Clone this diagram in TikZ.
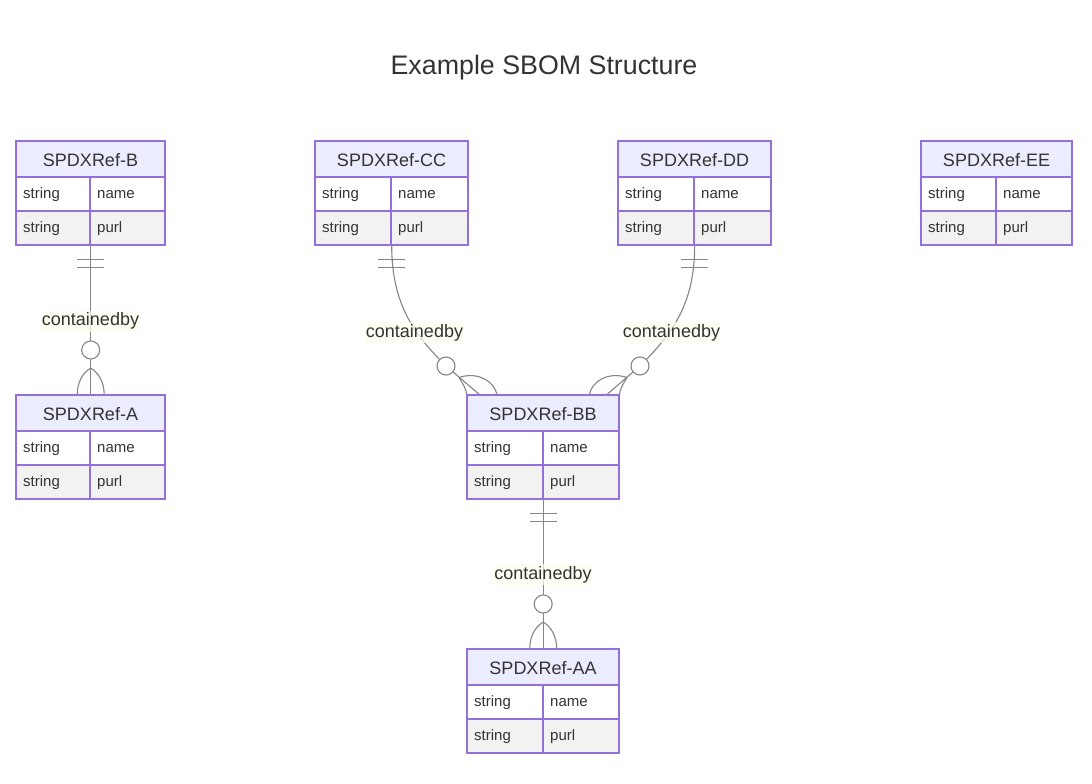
\documentclass[tikz,border=0pt]{standalone}
\usepackage{fontspec}
\setmainfont{Liberation Sans}
\usetikzlibrary{calc}
\definecolor{entborder}{HTML}{9370DB}
\definecolor{hdrbg}{HTML}{ECECFF}
\definecolor{evenbg}{HTML}{F2F2F2}
\definecolor{txt}{HTML}{333333}
\definecolor{relcol}{HTML}{858585}
\definecolor{lblbg}{HTML}{F9FFEC}
\tikzset{
  entnode/.style={draw=none, inner sep=0, minimum height=104, rectangle},
  hdrfill/.style={fill=hdrbg},
  rowfill/.style={fill=evenbg},
  entline/.style={draw=entborder, line width=1.25pt},
  titletext/.style={inner sep=0, text=txt, font=\fontsize{18}{20}\selectfont},
  celltext/.style={inner sep=0, text=txt, anchor=west, font=\fontsize{15}{17}\selectfont},
  rel/.style={draw=relcol, line width=1.1pt},
  lbl/.style={inner sep=0, minimum height=21, fill=lblbg, fill opacity=0.7, text opacity=1, text=txt, font=\fontsize{18}{20}\selectfont},
  headline/.style={inner sep=0, text=txt, font=\fontsize{26.8}{30}\selectfont},
}
\newcommand{\erent}[6]{% id, title, x1, xdiv, x2, ytop
  \node[entnode, minimum width={#5-#3}, anchor=north west] (#1) at (#3,#6) {};
  \fill[hdrfill] (#3,#6) rectangle (#5,{#6+36});
  \fill[white] (#3,{#6+36}) rectangle (#5,{#6+70});
  \fill[rowfill] (#3,{#6+70}) rectangle (#5,{#6+104});
  \draw[entline] (#3,{#6+36}) -- (#5,{#6+36}) (#3,{#6+70}) -- (#5,{#6+70}) (#4,{#6+36}) -- (#4,{#6+104});
  \draw[entline] (#3,#6) rectangle (#5,{#6+104});
  \node[titletext] (#1-t) at ({(#3+#5)/2},{#6+19}) {#2};
  \node[celltext] (#1-a1) at ({#3+7},{#6+53.5}) {string};
  \node[celltext] (#1-b1) at ({#4+7},{#6+53.5}) {name};
  \node[celltext] (#1-a2) at ({#3+7},{#6+87.5}) {string};
  \node[celltext] (#1-b2) at ({#4+7},{#6+87.5}) {purl};
}
\begin{document}
\begin{tikzpicture}[x=1pt,y=-1pt]
\useasboundingbox[fill=white] (0,0) rectangle (1092,784);
\node[headline] (title) at (544,67.5) {Example SBOM Structure};

% named entity anchors (placed first so connectors can use them)
\node[entnode, minimum width=149, anchor=north west] (B) at (16,141) {};
\node[entnode, minimum width=149, anchor=north west] (A) at (16,395) {};
\node[entnode, minimum width=153, anchor=north west] (CC) at (315,141) {};
\node[entnode, minimum width=153, anchor=north west] (DD) at (618,141) {};
\node[entnode, minimum width=152, anchor=north west] (BB) at (467,395) {};
\node[entnode, minimum width=152, anchor=north west] (AA) at (467,649) {};

% ---- B -> A
\draw[rel] (B.south) -- (A.north);
\draw[rel] ($(B.south)+(-13.5,14)$) -- ++(27,0) ($(B.south)+(-13.5,22)$) -- ++(27,0);
\coordinate (apA) at ($(A.north)+(0,-27)$);
\draw[rel] (apA) .. controls +(-8,5) and +(0,-13) .. ($(A.north)+(-13.5,0)$);
\draw[rel] (apA) .. controls +(8,5) and +(0,-13) .. ($(A.north)+(13.5,0)$);
\node[lbl] (lBA) at (90.5,321) {containedby};
\draw[rel, fill=white] ($(A.north)+(0,-45)$) circle[radius=9pt];

% ---- BB -> AA
\draw[rel] (BB.south) -- (AA.north);
\draw[rel] ($(BB.south)+(-13.5,14)$) -- ++(27,0) ($(BB.south)+(-13.5,22)$) -- ++(27,0);
\coordinate (apAA) at ($(AA.north)+(0,-27)$);
\draw[rel] (apAA) .. controls +(-8,5) and +(0,-13) .. ($(AA.north)+(-13.5,0)$);
\draw[rel] (apAA) .. controls +(8,5) and +(0,-13) .. ($(AA.north)+(13.5,0)$);
\node[lbl] (lBBAA) at (543,574.5) {containedby};
\draw[rel, fill=white] ($(AA.north)+(0,-45)$) circle[radius=9pt];

% ---- CC -> BB
\coordinate (cirL) at (446,366);
\coordinate (bbL) at ($(BB.north west)+(13,0)$);
\coordinate (apL) at (459,377.5);
\draw[rel] (CC.south) .. controls +(0,60) and (415,335) .. (cirL) -- (bbL);
\draw[rel] ($(CC.south)+(-13.5,14)$) -- ++(27,0) ($(CC.south)+(-13.5,22)$) -- ++(27,0);
\draw[rel] (apL) .. controls (478,371) and (495,382) .. ($(BB.north west)+(30,0)$);
\draw[rel] (apL) .. controls (463,384) and (466,389) .. (BB.north west);
\node[lbl] (lCC) at (414.5,332.5) {containedby};
\draw[rel, fill=white] (cirL) circle[radius=9pt];

% ---- DD -> BB
\coordinate (cirR) at (640,366);
\coordinate (bbR) at ($(BB.north east)+(-13,0)$);
\coordinate (apR) at (627,377.5);
\draw[rel] (DD.south) .. controls +(0,60) and (671,335) .. (cirR) -- (bbR);
\draw[rel] ($(DD.south)+(-13.5,14)$) -- ++(27,0) ($(DD.south)+(-13.5,22)$) -- ++(27,0);
\draw[rel] (apR) .. controls (608,371) and (591,382) .. ($(BB.north east)+(-30,0)$);
\draw[rel] (apR) .. controls (623,384) and (620,389) .. (BB.north east);
\node[lbl] (lDD) at (671.5,332.5) {containedby};
\draw[rel, fill=white] (cirR) circle[radius=9pt];

% ---- entities
\erent{eB}{SPDXRef-B}{16}{90}{165}{141}
\erent{eA}{SPDXRef-A}{16}{90}{165}{395}
\erent{eCC}{SPDXRef-CC}{315}{391}{468}{141}
\erent{eDD}{SPDXRef-DD}{618}{694}{771}{141}
\erent{eEE}{SPDXRef-EE}{921}{996}{1072}{141}
\erent{eBB}{SPDXRef-BB}{467}{543}{619}{395}
\erent{eAA}{SPDXRef-AA}{467}{543}{619}{649}
\end{tikzpicture}
\end{document}
